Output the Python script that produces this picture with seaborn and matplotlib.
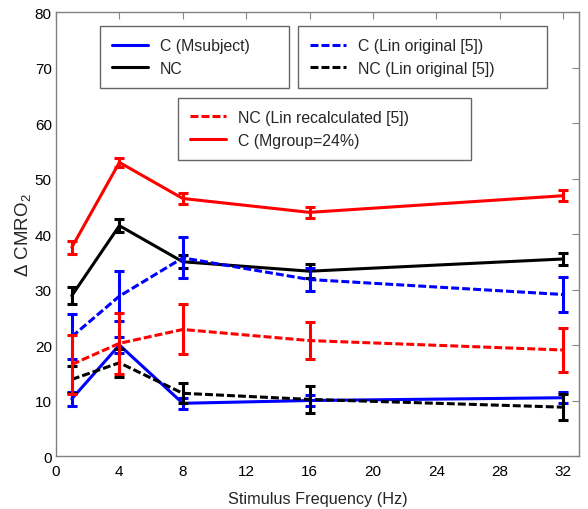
import matplotlib
matplotlib.use("Agg")
import matplotlib.pyplot as plt
import seaborn as sns
import pandas as pd

freq = [1, 4, 8, 16, 32]

c_msubject = [10.3, 20.0, 9.5, 10.0, 10.5]
c_msubject_err = [1.2, 1.5, 1.0, 1.0, 1.0]

nc = [28.9, 41.5, 35.0, 33.3, 35.5]
nc_err = [1.6, 1.2, 1.2, 1.3, 1.0]

c_lin = [21.5, 28.8, 35.7, 31.8, 29.1]
c_lin_err = [4.0, 4.5, 3.7, 2.0, 3.2]

nc_lin = [13.8, 16.8, 11.3, 10.2, 8.8]
nc_lin_err = [2.4, 2.5, 1.8, 2.5, 2.3]

nc_recalc = [16.5, 20.3, 22.8, 20.8, 19.1]
nc_recalc_err = [5.3, 5.5, 4.5, 3.3, 4.0]

c_mgroup = [37.6, 52.9, 46.4, 43.9, 46.9]
c_mgroup_err = [1.2, 0.8, 1.0, 1.0, 1.0]

labels = ["C (Msubject)", "NC", "C (Lin original [5])", "NC (Lin original [5])",
          "NC (Lin recalculated [5])", "C (Mgroup=24%)"]

x_ticks = [0, 4, 8, 12, 16, 20, 24, 28, 32]
y_ticks = [0, 10, 20, 30, 40, 50, 60, 70, 80]

sns.set_style("white")
plt.rcParams["font.family"] = ["Liberation Sans", "DejaVu Sans"]
plt.rcParams["mathtext.fontset"] = "custom"
plt.rcParams["mathtext.rm"] = "Liberation Sans"
plt.rcParams["mathtext.it"] = "Liberation Sans:italic"

fig = plt.figure(figsize=(5.88, 5.10), dpi=100)
ax = fig.add_axes([0.0952, 0.1039, 0.8895, 0.8706])

series = [
    (c_msubject, c_msubject_err, (0, 0, 1), "-"),
    (nc, nc_err, (0, 0, 0), "-"),
    (c_lin, c_lin_err, (0, 0, 1), "--"),
    (nc_lin, nc_lin_err, (0, 0, 0), "--"),
    (nc_recalc, nc_recalc_err, (1, 0, 0), "--"),
    (c_mgroup, c_mgroup_err, (1, 0, 0), "-"),
]

lw = 2.2
handles = []
for (vals, errs, col, ls), lab in zip(series, labels):
    df = pd.DataFrame({"f": freq, "v": vals})
    sns.lineplot(data=df, x="f", y="v", ax=ax, color=col, lw=lw, label=lab,
                 legend=False)
    line = ax.lines[-1]
    if ls == "--":
        line.set_dashes((2.6, 1.0))
    handles.append(line)
    ax.errorbar(freq, vals, yerr=errs, fmt="none", ecolor=col, elinewidth=lw,
                capsize=3.6, capthick=lw)

ax.set_xlim(0, 33)
ax.set_ylim(0, 80)
ax.set_xticks(x_ticks)
ax.set_yticks(y_ticks)
ax.tick_params(direction="in", length=5, top=True, right=True, labelsize=11,
               color="#888888", width=0.8, labelcolor="black")
ax.tick_params(axis="x", pad=6)
ax.tick_params(axis="y", pad=3)
for s in ax.spines.values():
    s.set_color("#808080")
    s.set_linewidth(1.0)
ax.set_xlabel("Stimulus Frequency (Hz)", fontsize=11.7, labelpad=9)
ax.set_ylabel(r"$\Delta$ CMRO$_\mathregular{2}$", fontsize=13.5)
ax.yaxis.set_label_coords(-0.043, 0.5)

leg_kw = dict(loc="upper left", mode="expand", fontsize=11.4, frameon=True,
              fancybox=False, edgecolor="#666666", framealpha=1,
              handlelength=2.3, borderpad=0.75, labelspacing=0.5,
              handletextpad=0.75, borderaxespad=0)
leg1 = ax.legend([handles[0], handles[1]], [labels[0], labels[1]],
                 bbox_to_anchor=(0.084, 0.968, 0.362, 0.0), **leg_kw)
ax.add_artist(leg1)
leg2 = ax.legend([handles[2], handles[3]], [labels[2], labels[3]],
                 bbox_to_anchor=(0.463, 0.968, 0.476, 0.0), **leg_kw)
ax.add_artist(leg2)
leg3 = ax.legend([handles[4], handles[5]], [labels[4], labels[5]],
                 bbox_to_anchor=(0.233, 0.806, 0.560, 0.0), **leg_kw)
for lg in (leg1, leg2, leg3):
    lg.get_frame().set_linewidth(1.0)

fig.savefig("out.png", dpi=100)
